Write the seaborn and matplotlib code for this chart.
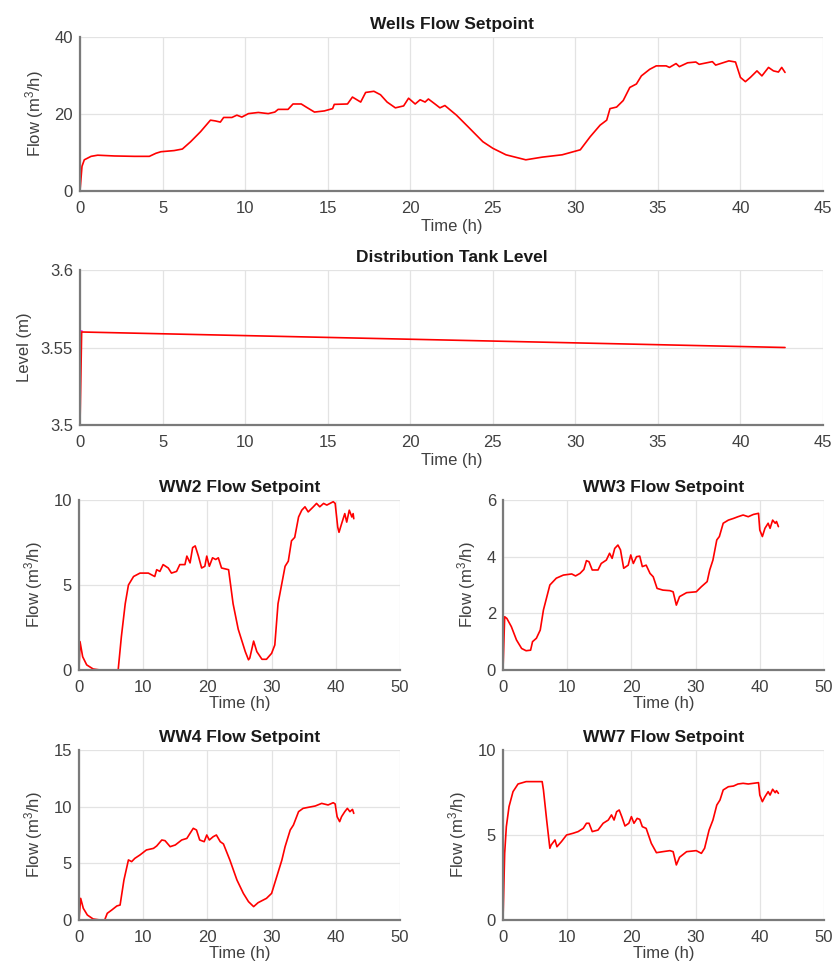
import numpy as np
import pandas as pd
import seaborn as sns
import matplotlib
matplotlib.use('Agg')
import matplotlib.pyplot as plt

# ---- data ----
wells_t = [0, 0.12, 0.26, 0.67, 1.07, 2.08, 3.3, 4.2, 4.6, 4.9, 5.7, 6.2, 6.7, 7.3, 7.9, 8.2, 8.5,
           8.7, 9.2, 9.5, 9.8, 10.2, 10.8, 11.4, 11.8, 12.0, 12.6, 12.9, 13.4, 13.7, 14.2, 14.8,
           15.3, 15.4, 16.2, 16.5, 17.0, 17.3, 17.8, 18.2, 18.6, 19.1, 19.6, 19.9, 20.3, 20.6,
           20.9, 21.1, 21.5, 21.8, 22.1, 22.8, 23.5, 24.4, 25.0, 25.8, 27.0, 28.0, 29.2, 30.3,
           30.9, 31.5, 31.9, 32.1, 32.5, 32.9, 33.3, 33.7, 34.0, 34.5, 34.9, 35.5, 35.7, 36.1,
           36.3, 36.8, 37.3, 37.5, 38.3, 38.5, 39.3, 39.7, 40.0, 40.3, 40.6, 41.0, 41.3, 41.7,
           42.0, 42.3, 42.5, 42.7]
wells_q = [0, 6.4, 8.1, 9.0, 9.3, 9.1, 9.0, 9.0, 9.8, 10.2, 10.5, 10.9, 12.8, 15.4, 18.4, 18.2, 17.9,
           19.1, 19.1, 19.7, 19.2, 20.1, 20.4, 20.1, 20.5, 21.2, 21.2, 22.6, 22.6, 21.8, 20.5, 20.8,
           21.4, 22.5, 22.6, 24.4, 23.1, 25.6, 25.9, 25.0, 23.1, 21.6, 22.1, 24.1, 22.6, 23.7,
           23.1, 23.9, 22.6, 21.6, 22.2, 19.7, 16.7, 12.8, 11.1, 9.4, 8.1, 8.8, 9.4, 10.7,
           14.1, 17.1, 18.4, 21.4, 21.8, 23.5, 26.9, 27.8, 29.9, 31.6, 32.5, 32.5, 32.1, 33.1,
           32.3, 33.3, 33.5, 32.9, 33.6, 32.7, 33.8, 33.5, 29.5, 28.4, 29.5, 31.2, 29.9, 32.1,
           31.2, 30.9, 32.1, 30.8]

tank_t = [0, 0.1, 42.7]
tank_level = [3.5, 3.56, 3.55]
tank_sp_t = [0, 0.12]
tank_sp = [3.5605, 3.5605]

ww2_t = [0, 0.16, 0.57, 1.2, 2.2, 3.3, 6.1, 6.6, 7.2, 7.7, 8.5, 9.5, 10.8, 11.8, 12.1, 12.6, 13.1,
         13.9, 14.4, 15.2, 15.7, 16.5, 16.8, 17.3, 17.7, 18.1, 18.6, 19.1, 19.6, 19.9, 20.3, 20.8,
         21.3, 21.7, 22.2, 23.3, 24.0, 24.8, 25.9, 26.4, 26.6, 27.2, 27.7, 28.5, 29.2, 30.0, 30.5,
         31.0, 31.6, 32.1, 32.6, 33.1, 33.6, 34.2, 34.7, 35.2, 35.7, 36.5, 37.0, 37.5, 38.1, 38.6,
         39.1, 39.6, 39.9, 40.3, 40.5, 40.9, 41.4, 41.7, 42.1, 42.5, 42.7, 42.8]
ww2_q = [0, 1.67, 0.78, 0.3, 0.06, 0, 0, 1.96, 3.9, 5.0, 5.5, 5.7, 5.7, 5.5, 5.9, 5.8, 6.2,
         6.0, 5.7, 5.8, 6.2, 6.2, 6.7, 6.3, 7.2, 7.3, 6.7, 6.0, 6.1, 6.7, 6.1, 6.6,
         6.5, 6.6, 6.0, 5.9, 3.9, 2.4, 1.08, 0.6, 0.7, 1.7, 1.08, 0.63, 0.63, 0.98, 1.47,
         3.9, 5.1, 6.1, 6.4, 7.6, 7.8, 9.0, 9.4, 9.6, 9.3, 9.6, 9.8, 9.6, 9.8, 9.7,
         9.8, 9.9, 9.8, 8.4, 8.1, 8.6, 9.2, 8.7, 9.4, 9.0, 9.2, 8.9]

ww3_t = [0, 0.26, 0.6, 1.3, 2.1, 2.9, 3.6, 4.3, 4.6, 5.2, 5.8, 6.3, 7.3, 8.3, 9.4, 10.7, 11.3,
         12.0, 12.6, 13.0, 13.4, 13.9, 14.8, 15.3, 16.1, 16.6, 17.0, 17.4, 17.9, 18.3, 18.8,
         19.5, 19.9, 20.3, 20.8, 21.3, 21.7, 22.3, 22.9, 23.4, 24.0, 24.9, 26.0, 26.5, 27.0,
         27.5, 28.6, 30.1, 30.9, 31.8, 32.2, 32.7, 33.3, 33.7, 34.3, 35.1, 35.9, 36.6, 37.4,
         38.2, 39.0, 39.8, 40.0, 40.4, 40.8, 41.3, 41.6, 42.0, 42.4, 42.6, 42.9]
ww3_q = [0, 1.88, 1.82, 1.53, 1.06, 0.76, 0.68, 0.7, 1.0, 1.12, 1.41, 2.12, 3.0, 3.24, 3.35, 3.39, 3.32,
         3.41, 3.55, 3.86, 3.82, 3.53, 3.53, 3.76, 3.88, 4.12, 3.94, 4.29, 4.41, 4.24, 3.59,
         3.7, 4.06, 3.76, 4.0, 4.02, 3.65, 3.7, 3.41, 3.29, 2.88, 2.82, 2.8, 2.76, 2.29,
         2.59, 2.73, 2.76, 2.94, 3.12, 3.53, 3.88, 4.59, 4.71, 5.18, 5.29, 5.35, 5.41, 5.47,
         5.41, 5.49, 5.53, 4.94, 4.71, 5.0, 5.18, 5.0, 5.29, 5.18, 5.24, 5.06]

ww4_t = [0, 0.26, 0.67, 1.3, 2.2, 3.3, 4.0, 4.4, 5.1, 5.9, 6.4, 7.0, 7.7, 8.2, 8.7, 9.5, 10.5,
         11.6, 12.1, 12.9, 13.4, 14.2, 15.0, 16.0, 16.8, 17.3, 17.8, 18.3, 18.8, 19.5, 19.9,
         20.3, 20.9, 21.4, 22.0, 22.5, 23.5, 24.6, 25.6, 26.4, 27.2, 27.9, 29.2, 30.0, 30.8,
         31.6, 32.1, 32.9, 33.4, 34.2, 34.9, 35.7, 36.8, 37.8, 38.8, 39.6, 39.9, 40.2, 40.6,
         40.9, 41.4, 41.8, 42.2, 42.6, 42.8]
ww4_q = [0, 1.91, 1.03, 0.44, 0.09, 0, 0, 0.59, 0.88, 1.24, 1.32, 3.53, 5.3, 5.15, 5.44, 5.74, 6.18,
         6.32, 6.53, 7.06, 7.0, 6.47, 6.62, 7.06, 7.2, 7.65, 8.09, 7.94, 7.06, 6.91, 7.5,
         7.06, 7.35, 7.5, 6.91, 6.71, 5.29, 3.53, 2.35, 1.62, 1.18, 1.53, 1.91, 2.35, 3.82,
         5.29, 6.47, 7.94, 8.38, 9.56, 9.85, 9.94, 10.06, 10.29, 10.15, 10.35, 10.24, 9.12, 8.68,
         9.12, 9.56, 9.85, 9.56, 9.76, 9.41]

ww7_t = [0, 0.26, 0.52, 0.94, 1.56, 2.34, 3.6, 6.1, 6.3, 6.8, 7.3, 7.5, 8.1, 8.4, 9.1, 9.9, 10.9,
         11.7, 12.5, 13.0, 13.4, 13.9, 14.8, 15.6, 16.4, 16.9, 17.3, 17.7, 18.1, 18.5, 19.0,
         19.6, 20.0, 20.4, 20.9, 21.3, 21.7, 22.3, 23.1, 23.9, 24.9, 26.0, 26.5, 27.0, 27.5,
         28.6, 30.1, 30.9, 31.4, 32.1, 32.7, 33.3, 33.8, 34.3, 35.1, 35.9, 36.6, 37.4, 38.2,
         39.0, 39.8, 40.0, 40.4, 40.8, 41.3, 41.6, 42.0, 42.4, 42.6, 42.9]
ww7_q = [0, 3.92, 5.49, 6.67, 7.55, 8.0, 8.14, 8.14, 7.65, 5.88, 4.22, 4.41, 4.71, 4.31, 4.61, 5.0, 5.1,
         5.2, 5.39, 5.69, 5.69, 5.2, 5.29, 5.69, 5.88, 6.18, 5.88, 6.37, 6.47, 6.08, 5.53,
         5.69, 6.08, 5.69, 5.98, 5.92, 5.49, 5.39, 4.51, 3.96, 4.02, 4.08, 4.02, 3.24, 3.69,
         4.02, 4.08, 3.92, 4.22, 5.29, 5.88, 6.76, 7.06, 7.65, 7.84, 7.88, 8.0, 8.04, 8.0,
         8.04, 8.08, 7.35, 6.96, 7.25, 7.55, 7.35, 7.69, 7.49, 7.61, 7.45]

sns.set_style('white')
plt.rcParams['font.family'] = ['Liberation Sans', 'DejaVu Sans']
plt.rcParams['mathtext.fontset'] = 'custom'
plt.rcParams['mathtext.rm'] = 'Liberation Sans'
plt.rcParams['mathtext.it'] = 'Liberation Sans'

W, H = 835, 965
fig = plt.figure(figsize=(W / 100, H / 100), dpi=100)

flow_label = 'Flow (m$^3$/h)'
panels = [
    # (t, y, title, ylabel, box in px (left, top, right, bottom), xmax, xstep, yticks)
    (wells_t, wells_q, 'Wells Flow Setpoint', flow_label, (80, 37, 823, 191), 45, 5, [0, 20, 40]),
    (tank_t, tank_level, 'Distribution Tank Level', 'Level (m)', (80, 270, 823, 425), 45, 5, [3.5, 3.55, 3.6]),
    (ww2_t, ww2_q, 'WW2 Flow Setpoint', flow_label, (79, 500, 400, 670), 50, 10, [0, 5, 10]),
    (ww3_t, ww3_q, 'WW3 Flow Setpoint', flow_label, (503, 500, 824, 670), 50, 10, [0, 2, 4, 6]),
    (ww4_t, ww4_q, 'WW4 Flow Setpoint', flow_label, (79, 750, 400, 920), 50, 10, [0, 5, 10, 15]),
    (ww7_t, ww7_q, 'WW7 Flow Setpoint', flow_label, (503, 750, 824, 920), 50, 10, [0, 5, 10]),
]

for i, (t, y, title, ylabel, box, xmax, xstep, yticks) in enumerate(panels):
    l, tp, r, b = box
    ax = fig.add_axes([l / W, 1 - b / H, (r - l) / W, (b - tp) / H])
    if i == 1:
        ax.plot(tank_sp_t, tank_sp, color='magenta', linewidth=1.2)
    df = pd.DataFrame({'t': t, 'y': y})
    sns.lineplot(data=df, x='t', y='y', ax=ax, color='red', linewidth=1.2, sort=False)
    ax.set_xlim(0, xmax)
    ax.set_ylim(yticks[0], yticks[-1])
    ax.set_xticks(np.arange(0, xmax + 0.1, xstep))
    ax.set_yticks(yticks)
    ax.set_yticklabels([f'{v:g}' for v in yticks])
    ax.grid(True, color='#e3e3e3', linewidth=0.9)
    ax.set_axisbelow(True)
    for side in ['top', 'right']:
        ax.spines[side].set_visible(False)
    for side in ['left', 'bottom']:
        ax.spines[side].set_color('#7a7a7a')
        ax.spines[side].set_linewidth(1.6)
    ax.tick_params(direction='in', length=3.5, width=1, colors='#555555', labelcolor='#404040',
                   labelsize=12, pad=5)
    ax.tick_params(axis='x', pad=7)
    ax.set_title(title, fontsize=12.5, fontweight='bold', color='#1a1a1a', pad=6)
    ax.set_xlabel('Time (h)', fontsize=12, color='#404040', labelpad=2 if i < 2 else 1)
    ax.set_ylabel(ylabel, fontsize=12, color='#404040', labelpad=6)

plt.savefig('out.png', dpi=100)
